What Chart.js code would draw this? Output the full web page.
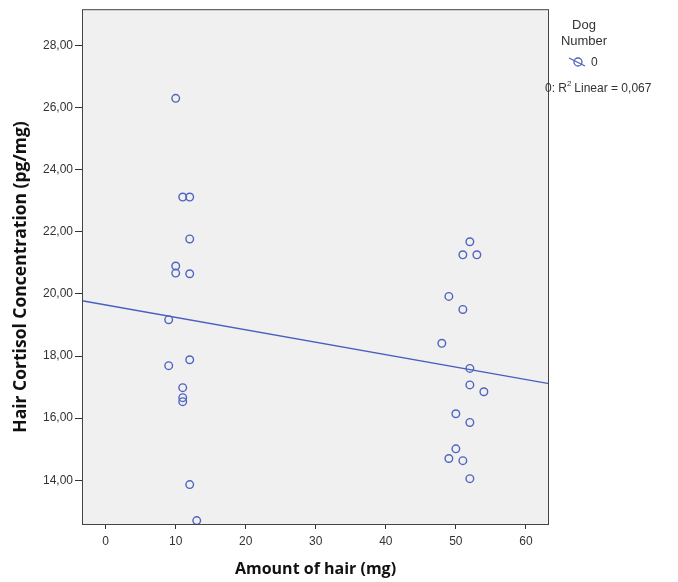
<!DOCTYPE html>
<html>
<head>
<meta charset="utf-8">
<script src="https://cdn.jsdelivr.net/npm/chart.js@4"></script>
<style>
  html, body { margin: 0; padding: 0; background: #fff; }
  canvas { display: block; }
</style>
</head>
<body>
<canvas id="c" width="678" height="582"></canvas>
<script>
// hair amount (mg) and cortisol (pg/mg)
const hairMg = [10, 11, 12, 12, 10, 10, 12, 9, 12, 9, 11, 11, 11, 12, 13,
                52, 51, 53, 49, 51, 48, 52, 52, 54, 50, 52, 50, 49, 51, 52];
const cortisol = [26.30, 23.12, 23.12, 21.77, 20.90, 20.67, 20.65, 19.17, 17.88, 17.69, 16.98, 16.66, 16.53, 13.86, 12.70,
                  21.68, 21.26, 21.26, 19.92, 19.50, 18.41, 17.60, 17.07, 16.85, 16.14, 15.86, 15.01, 14.70, 14.63, 14.05];
// fit line ends (at axis min / max)
const fitX = [-3.38, 63.3];
const fitY = [19.78, 17.11];

const xRange = [-3.38, 63.3];
const yRange = [12.59, 29.17];

const xTitle = "Amount of hair (mg)";
const yTitle = "Hair Cortisol Concentration (pg/mg)";

const dotColor = "rgb(80,100,192)";
const lineColor = "rgb(72,94,192)";
const inkColor = "#333";

const frame = {
  id: "frame",
  beforeDraw(chart) {
    const { ctx, chartArea: a } = chart;
    ctx.save();
    ctx.fillStyle = "#f0f0f0";
    ctx.fillRect(a.left, a.top, a.right - a.left, a.bottom - a.top);
    ctx.restore();
  },
  afterDraw(chart) {
    const { ctx, chartArea: a } = chart;
    ctx.save();
    ctx.strokeStyle = "#444";
    ctx.lineWidth = 1;
    ctx.strokeRect(a.left + 0.5, a.top + 0.5, a.right - a.left - 1, a.bottom - a.top);

    // axis titles (SPSS puts the y one a bit below centre)
    ctx.fillStyle = "#111";
    ctx.textAlign = "center";
    ctx.textBaseline = "middle";
    ctx.font = "bold 16px 'Open Sans', 'DejaVu Sans', sans-serif";
    ctx.fillText(xTitle, (a.left + a.right) / 2, 569);
    ctx.save();
    ctx.translate(21, 277);
    ctx.rotate(-Math.PI / 2);
    ctx.font = "bold 17.5px 'Open Sans', 'DejaVu Sans', sans-serif";
    ctx.fillText(yTitle, 0, 0);
    ctx.restore();

    // legend block on the right
    ctx.fillStyle = inkColor;
    ctx.font = "13px 'Liberation Sans', Arial, sans-serif";
    ctx.fillText("Dog", 584, 25);
    ctx.fillText("Number", 584, 41);

    ctx.strokeStyle = dotColor;
    ctx.lineWidth = 1.3;
    ctx.beginPath();
    ctx.arc(578, 62, 4, 0, Math.PI * 2);
    ctx.stroke();
    ctx.beginPath();
    ctx.moveTo(569, 58);
    ctx.lineTo(585, 66);
    ctx.stroke();
    ctx.font = "12px 'Liberation Sans', Arial, sans-serif";
    ctx.textAlign = "left";
    ctx.fillText("0", 591, 63);

    ctx.fillText("0: R", 545, 89);
    ctx.font = "8px 'Liberation Sans', Arial, sans-serif";
    ctx.fillText("2", 567, 84);
    ctx.font = "12px 'Liberation Sans', Arial, sans-serif";
    ctx.fillText(" Linear = 0,067", 571, 89);
    ctx.restore();
  }
};

new Chart(document.getElementById("c"), {
  type: "scatter",
  data: {
    datasets: [
      {
        data: hairMg.map((x, i) => ({ x, y: cortisol[i] })),
        pointStyle: "circle",
        pointRadius: 3.8,
        pointBorderWidth: 1.4,
        pointBorderColor: dotColor,
        pointBackgroundColor: "rgba(0,0,0,0)",
        showLine: false
      },
      {
        data: fitX.map((x, i) => ({ x, y: fitY[i] })),
        showLine: true,
        borderColor: lineColor,
        borderWidth: 1.3,
        pointRadius: 0
      }
    ]
  },
  options: {
    responsive: false,
    animation: false,
    layout: { padding: { left: 0, top: 8, right: 129, bottom: 0 } },
    plugins: { legend: { display: false }, tooltip: { enabled: false } },
    scales: {
      x: {
        type: "linear",
        min: xRange[0], max: xRange[1],
        afterFit(s) { s.height = 58; },
        grid: { drawOnChartArea: false, tickLength: 5, color: inkColor, tickColor: inkColor },
        border: { display: false },
        ticks: {
          stepSize: 10, includeBounds: false, padding: 5, color: inkColor,
          font: { family: "'Liberation Sans', Arial, sans-serif", size: 12 }
        }
      },
      y: {
        type: "linear",
        min: yRange[0], max: yRange[1],
        afterFit(s) { s.width = 82; },
        grid: { drawOnChartArea: false, tickLength: 7, color: inkColor, tickColor: inkColor },
        border: { display: false },
        ticks: {
          stepSize: 2, includeBounds: false, padding: 2, color: inkColor,
          font: { family: "'Liberation Sans', Arial, sans-serif", size: 12 },
          callback: v => v.toFixed(2).replace(".", ",")
        }
      }
    }
  },
  plugins: [frame]
});
</script>
</body>
</html>
